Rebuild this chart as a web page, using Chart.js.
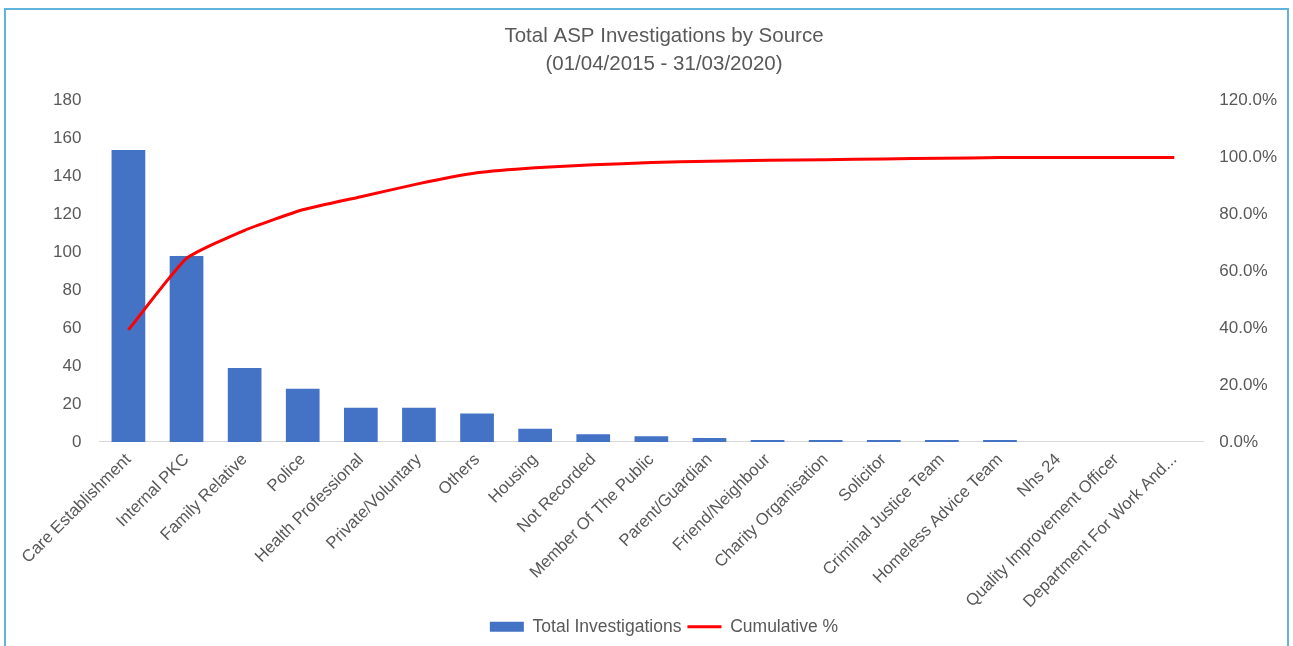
<!DOCTYPE html>
<html>
<head>
<meta charset="utf-8">
<title>Total ASP Investigations by Source</title>
<script src="https://cdn.jsdelivr.net/npm/chart.js@4"></script>
<style>
  html, body { margin: 0; padding: 0; background: #fff; }
  #frame {
    position: absolute; left: 4px; top: 8px;
    width: 1285px; height: 660px;
    border: 2px solid #5fb3dc; border-bottom: none;
    box-sizing: border-box;
  }
  #wrap { position: absolute; left: 0; top: 0; width: 1281px; height: 638px; }
</style>
</head>
<body>
<div id="frame"><div id="wrap"><canvas id="chart"></canvas></div></div>
<script>
const sources = [
  'Care Establishment', 'Internal PKC', 'Family Relative', 'Police',
  'Health Professional', 'Private/Voluntary', 'Others', 'Housing',
  'Not Recorded', 'Member Of The Public', 'Parent/Guardian', 'Friend/Neighbour',
  'Charity Organisation', 'Solicitor', 'Criminal Justice Team',
  'Homeless Advice Team', 'Nhs 24', 'Quality Improvement Officer',
  'Department For Work And...'
];
const totalInvestigations = [154, 98, 39, 28, 18, 18, 15, 7, 4, 3, 2, 1, 1, 1, 1, 1, 0, 0, 0];
const cumulativePct = [39.4, 64.5, 74.4, 81.6, 86.2, 90.8, 94.6, 96.4, 97.4, 98.2, 98.7, 99.0, 99.2, 99.5, 99.7, 100, 100, 100, 100];
const titleLines = ['Total ASP Investigations by Source', '(01/04/2015 - 31/03/2020)'];

const textGrey = '#595959';
const fontFamily = '"Liberation Sans", "DejaVu Sans", sans-serif';

new Chart(document.getElementById('chart').getContext('2d'), {
  type: 'bar',
  data: {
    labels: sources,
    datasets: [
      {
        type: 'line',
        label: 'Cumulative %',
        data: cumulativePct,
        yAxisID: 'y1',
        borderColor: '#ff0000',
        backgroundColor: '#ff0000',
        borderWidth: 3,
        pointRadius: 0,
        tension: 0.15,
        pointStyle: 'line',
        order: 0
      },
      {
        label: 'Total Investigations',
        data: totalInvestigations,
        yAxisID: 'y',
        backgroundColor: '#4472c4',
        borderWidth: 0,
        barPercentage: 0.58,
        categoryPercentage: 1.0,
        pointStyle: 'rect',
        order: 1
      }
    ]
  },
  options: {
    responsive: true,
    maintainAspectRatio: false,
    animation: false,
    layout: { padding: { left: 37, right: 2, top: 4, bottom: 2.5 } },
    plugins: {
      title: {
        display: true,
        text: titleLines,
        color: textGrey,
        font: { family: fontFamily, size: 20.5, weight: 'normal', lineHeight: 1.38 },
        padding: { top: 8, bottom: 22 }
      },
      legend: {
        position: 'bottom',
        reverse: true,
        labels: {
          color: textGrey,
          font: { family: fontFamily, size: 17.5 },
          usePointStyle: true,
          pointStyleWidth: 34,
          boxHeight: 10,
          padding: 6
        }
      },
      tooltip: { enabled: false }
    },
    scales: {
      x: {
        grid: { display: false },
        border: { display: true, color: '#d9d9d9', width: 1 },
        ticks: {
          color: textGrey,
          font: { family: fontFamily, size: 16.75 },
          maxRotation: 45,
          minRotation: 45,
          autoSkip: false,
          padding: 0
        }
      },
      y: {
        position: 'left',
        min: 0,
        max: 180,
        grid: { display: false },
        border: { display: false },
        ticks: {
          stepSize: 20,
          color: textGrey,
          font: { family: fontFamily, size: 17 },
          padding: 10
        }
      },
      y1: {
        position: 'right',
        min: 0,
        max: 120,
        grid: { display: false },
        border: { display: false },
        ticks: {
          stepSize: 20,
          color: textGrey,
          font: { family: fontFamily, size: 17 },
          padding: 8,
          callback: v => v.toFixed(1) + '%'
        }
      }
    }
  }
});
</script>
</body>
</html>
